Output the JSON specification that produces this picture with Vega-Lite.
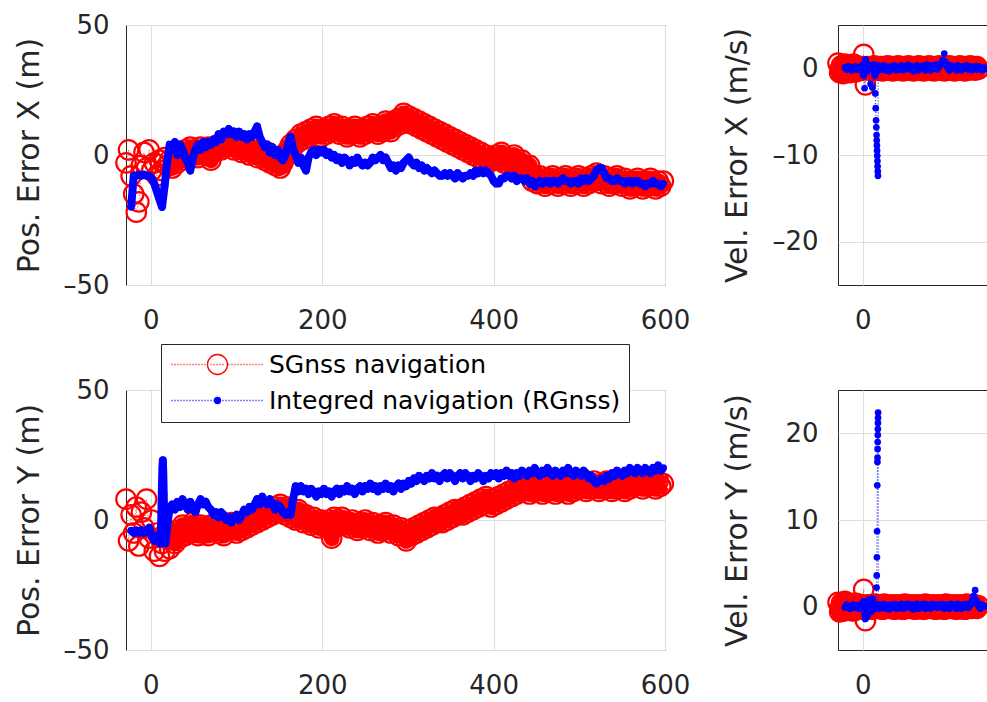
{
"$schema": "https://vega.github.io/schema/vega-lite/v6.json",
"background": "white",
"padding": {"left": 13, "top": 11, "right": -4, "bottom": 0},
"bounds": "flush",
"columns": 2,
"spacing": {"row": 105, "column": 173},
"config": {
  "font": "DejaVu Sans",
  "view": {"stroke": "#262626", "strokeWidth": 1},
  "axis": {"domain": false, "ticks": false, "grid": true, "gridColor": "#dedede", "gridWidth": 1, "labelFont": "DejaVu Sans", "labelFontSize": 26, "labelColor": "#262626", "titleFont": "DejaVu Sans", "titleFontSize": 30, "titleFontWeight": "normal", "titleColor": "#262626"},
  "axisX": {"labelPadding": 22, "labelFlush": false},
  "axisY": {"titlePadding": 12}
},
"datasets": {
"px": [
{"t":-29,"S":-3},{"t":-26,"S":2},{"t":-23,"S":-8,"I":-20},{"t":-20,"S":-15,"I":-8},{"t":-17,"S":-22,"I":-8},{"t":-14,"S":-18,"I":-7.5},{"t":-11,"S":-4,"I":-8},{"t":-8,"S":1,"I":-7.5},{"t":-5,"S":-5,"I":-8},{"t":-2,"S":2,"I":-8},
{"t":1,"S":-6,"I":-9},{"t":4,"S":-3,"I":-11},{"t":7,"S":-8,"I":-14},{"t":10,"S":-2,"I":-17},{"t":13,"S":-6,"I":-20},{"t":16,"S":-1,"I":-12},{"t":19,"S":-4,"I":-3},{"t":22,"S":-2,"I":4},{"t":25,"S":-5,"I":2},{"t":28,"S":0,"I":5},
{"t":31,"S":-3,"I":0},{"t":34,"S":1,"I":4},{"t":37,"S":-2,"I":2},{"t":40,"S":2,"I":-1},{"t":43,"S":-1,"I":-3},{"t":46,"S":3,"I":-6},{"t":49,"S":0,"I":-1},{"t":52,"S":2,"I":2},{"t":55,"S":-1,"I":4},{"t":58,"S":3,"I":2},
{"t":61,"S":1,"I":5},{"t":64,"S":0,"I":3},{"t":67,"S":3,"I":5},{"t":70,"S":-2,"I":4},{"t":73,"S":1,"I":6},{"t":76,"S":2,"I":5},{"t":79,"S":4,"I":8},{"t":82,"S":2,"I":6},{"t":85,"S":5,"I":9},{"t":88,"S":3,"I":8},
{"t":91,"S":6,"I":10},{"t":94,"S":4,"I":8},{"t":97,"S":2,"I":9},{"t":100,"S":5,"I":7},{"t":103,"S":3,"I":9},{"t":106,"S":1,"I":7},{"t":109,"S":4,"I":8},{"t":112,"S":2,"I":6},{"t":115,"S":0,"I":8},{"t":118,"S":3,"I":7},
{"t":121,"S":1,"I":9},{"t":124,"S":-1,"I":11},{"t":127,"S":2,"I":7},{"t":130,"S":0,"I":5},{"t":133,"S":-2,"I":3},{"t":136,"S":1,"I":4},{"t":139,"S":-3,"I":1},{"t":142,"S":-1,"I":3},{"t":145,"S":-4,"I":0},{"t":148,"S":-2,"I":2},
{"t":151,"S":-5,"I":-1},{"t":154,"S":-3,"I":-2},{"t":157,"S":-1,"I":0},{"t":160,"S":2,"I":4},{"t":163,"S":4,"I":7},{"t":166,"S":3,"I":2},{"t":169,"S":6,"I":0},{"t":172,"S":5,"I":-3},{"t":175,"S":8,"I":-1},{"t":178,"S":6,"I":-4},
{"t":181,"S":9,"I":-6},{"t":184,"S":7,"I":-1},{"t":187,"S":10,"I":1},{"t":190,"S":8,"I":2},{"t":193,"S":11,"I":0},{"t":196,"S":9,"I":2},{"t":199,"S":7,"I":1},{"t":202,"S":10,"I":2},{"t":205,"S":8,"I":0},{"t":208,"S":11,"I":1},
{"t":211,"S":9,"I":-1},{"t":214,"S":12,"I":0},{"t":217,"S":10,"I":-2},{"t":220,"S":8,"I":-1},{"t":223,"S":11,"I":-3},{"t":226,"S":9,"I":-1},{"t":229,"S":7,"I":-2},{"t":232,"S":10,"I":-4},{"t":235,"S":8,"I":-2},{"t":238,"S":11,"I":-3},
{"t":241,"S":9,"I":-1},{"t":244,"S":7,"I":-3},{"t":247,"S":10,"I":-4},{"t":250,"S":8,"I":-3},{"t":253,"S":11,"I":-4},{"t":256,"S":9,"I":-3},{"t":259,"S":12,"I":-1},{"t":262,"S":10,"I":-2},{"t":265,"S":8,"I":-1},{"t":268,"S":11,"I":0},
{"t":271,"S":9,"I":-2},{"t":274,"S":13,"I":-1},{"t":277,"S":11,"I":-3},{"t":280,"S":9,"I":-5},{"t":283,"S":13,"I":-4},{"t":286,"S":11,"I":-6},{"t":289,"S":14,"I":-4},{"t":292,"S":12,"I":-5},{"t":295,"S":16,"I":-3},{"t":298,"S":13,"I":-2},
{"t":301,"S":15,"I":-1},{"t":304,"S":12,"I":-3},{"t":307,"S":14,"I":-4},{"t":310,"S":11,"I":-3},{"t":313,"S":13,"I":-5},{"t":316,"S":10,"I":-4},{"t":319,"S":12,"I":-6},{"t":322,"S":9,"I":-5},{"t":325,"S":11,"I":-6},{"t":328,"S":8,"I":-7},
{"t":331,"S":10,"I":-6},{"t":334,"S":7,"I":-7},{"t":337,"S":9,"I":-8},{"t":340,"S":6,"I":-8},{"t":343,"S":8,"I":-7},{"t":346,"S":5,"I":-8},{"t":349,"S":7,"I":-7},{"t":352,"S":4,"I":-8},{"t":355,"S":6,"I":-9},{"t":358,"S":3,"I":-7},
{"t":361,"S":5,"I":-8},{"t":364,"S":2,"I":-9},{"t":367,"S":4,"I":-8},{"t":370,"S":1,"I":-8},{"t":373,"S":3,"I":-7},{"t":376,"S":0,"I":-8},{"t":379,"S":2,"I":-6},{"t":382,"S":-1,"I":-7},{"t":385,"S":1,"I":-6},{"t":388,"S":-2,"I":-7},
{"t":391,"S":0,"I":-6},{"t":394,"S":-3,"I":-7},{"t":397,"S":-1,"I":-8},{"t":400,"S":-2,"I":-10},{"t":403,"S":0,"I":-11},{"t":406,"S":-2,"I":-11},{"t":409,"S":1,"I":-9},{"t":412,"S":-3,"I":-9},{"t":415,"S":-1,"I":-8},{"t":418,"S":-4,"I":-8},
{"t":421,"S":-2,"I":-9},{"t":424,"S":0,"I":-8},{"t":427,"S":-3,"I":-10},{"t":430,"S":-5,"I":-9},{"t":433,"S":-2,"I":-9},{"t":436,"S":-4,"I":-10},{"t":439,"S":-6,"I":-9},{"t":442,"S":-4,"I":-11},{"t":445,"S":-10,"I":-10},{"t":448,"S":-8,"I":-12},
{"t":451,"S":-11,"I":-11},{"t":454,"S":-8,"I":-10},{"t":457,"S":-10,"I":-11},{"t":460,"S":-12,"I":-10},{"t":463,"S":-9,"I":-10},{"t":466,"S":-11,"I":-11},{"t":469,"S":-8,"I":-10},{"t":472,"S":-10,"I":-10},{"t":475,"S":-12,"I":-11},{"t":478,"S":-9,"I":-10},
{"t":481,"S":-11,"I":-9},{"t":484,"S":-8,"I":-10},{"t":487,"S":-10,"I":-10},{"t":490,"S":-12,"I":-11},{"t":493,"S":-9,"I":-10},{"t":496,"S":-11,"I":-10},{"t":499,"S":-8,"I":-11},{"t":502,"S":-10,"I":-9},{"t":505,"S":-12,"I":-10},{"t":508,"S":-9,"I":-9},
{"t":511,"S":-11,"I":-10},{"t":514,"S":-8,"I":-9},{"t":517,"S":-10,"I":-8},{"t":520,"S":-7,"I":-6},{"t":523,"S":-9,"I":-5},{"t":526,"S":-11,"I":-5},{"t":529,"S":-8,"I":-7},{"t":532,"S":-10,"I":-9},{"t":535,"S":-12,"I":-9},{"t":538,"S":-9,"I":-10},
{"t":541,"S":-11,"I":-10},{"t":544,"S":-8,"I":-9},{"t":547,"S":-10,"I":-10},{"t":550,"S":-12,"I":-10},{"t":553,"S":-9,"I":-11},{"t":556,"S":-11,"I":-10},{"t":559,"S":-13,"I":-10},{"t":562,"S":-10,"I":-11},{"t":565,"S":-12,"I":-10},{"t":568,"S":-9,"I":-10},
{"t":571,"S":-11,"I":-11},{"t":574,"S":-13,"I":-11},{"t":577,"S":-10,"I":-12},{"t":580,"S":-12,"I":-11},{"t":583,"S":-9,"I":-11},{"t":586,"S":-11,"I":-10},{"t":589,"S":-13,"I":-11},{"t":592,"S":-10,"I":-11},{"t":595,"S":-12,"I":-12},{"t":598,"S":-10,"I":-11}
],
"py": [
{"t":-29,"S":8},{"t":-26,"S":-8},{"t":-23,"S":2,"I":-4},{"t":-20,"S":-5,"I":-5},{"t":-17,"S":5,"I":-4},{"t":-14,"S":-10,"I":-5},{"t":-11,"S":3,"I":-4},{"t":-8,"S":-3,"I":-5},{"t":-5,"S":8,"I":-4},{"t":-2,"S":-7,"I":-3},
{"t":1,"S":0,"I":-6},{"t":4,"S":-12,"I":-8},{"t":7,"S":-5,"I":-6},{"t":10,"S":-14,"I":-8},{"t":11,"I":-9},{"t":12,"I":-2},{"t":12.5,"I":6},{"t":13,"S":-9,"I":14},{"t":13.5,"I":20},{"t":14,"I":23},{"t":14.5,"I":18},{"t":15,"I":10},{"t":15.5,"I":2},{"t":16,"S":-12,"I":-6},{"t":17,"I":-9},
{"t":19,"S":-7,"I":-3},{"t":22,"S":-11,"I":5},{"t":25,"S":-6,"I":6},{"t":28,"S":-9,"I":4},{"t":31,"S":-4,"I":7},{"t":34,"S":-7,"I":5},{"t":37,"S":-2,"I":8},{"t":40,"S":-6,"I":6},{"t":43,"S":-3,"I":4},{"t":46,"S":-5,"I":7},
{"t":49,"S":-1,"I":5},{"t":52,"S":-4,"I":3},{"t":55,"S":-6,"I":6},{"t":58,"S":-2,"I":8},{"t":61,"S":-5,"I":6},{"t":64,"S":-3,"I":7},{"t":67,"S":-6,"I":5},{"t":70,"S":-2,"I":4},{"t":73,"S":-4,"I":2},{"t":76,"S":-1,"I":3},
{"t":79,"S":-5,"I":1},{"t":82,"S":-3,"I":3},{"t":85,"S":-6,"I":2},{"t":88,"S":-2,"I":0},{"t":91,"S":-4,"I":1},{"t":94,"S":-1,"I":-1},{"t":97,"S":-3,"I":1},{"t":100,"S":-5,"I":2},{"t":103,"S":-2,"I":0},{"t":106,"S":-4,"I":2},
{"t":109,"S":-1,"I":4},{"t":112,"S":-3,"I":3},{"t":115,"S":0,"I":5},{"t":118,"S":-2,"I":4},{"t":121,"S":1,"I":6},{"t":124,"S":-1,"I":8},{"t":127,"S":2,"I":6},{"t":130,"S":0,"I":9},{"t":133,"S":3,"I":7},{"t":136,"S":1,"I":6},
{"t":139,"S":4,"I":8},{"t":142,"S":2,"I":6},{"t":145,"S":5,"I":4},{"t":148,"S":3,"I":6},{"t":151,"S":6,"I":5},{"t":154,"S":4,"I":3},{"t":157,"S":2,"I":2},{"t":160,"S":5,"I":3},{"t":163,"S":1,"I":2},{"t":166,"S":3,"I":8},
{"t":169,"S":0,"I":13},{"t":172,"S":4,"I":11},{"t":175,"S":1,"I":13},{"t":178,"S":-1,"I":11},{"t":181,"S":2,"I":12},{"t":184,"S":0,"I":10},{"t":187,"S":-2,"I":12},{"t":190,"S":1,"I":11},{"t":193,"S":-1,"I":9},{"t":196,"S":-3,"I":11},
{"t":199,"S":0,"I":10},{"t":202,"S":-2,"I":12},{"t":205,"S":-3,"I":10},{"t":208,"S":0,"I":11},{"t":211,"S":-7,"I":9},{"t":214,"S":1,"I":11},{"t":217,"S":-2,"I":12},{"t":220,"S":-1,"I":10},{"t":223,"S":1,"I":12},{"t":226,"S":-2,"I":11},
{"t":229,"S":-1,"I":13},{"t":232,"S":-3,"I":11},{"t":235,"S":0,"I":12},{"t":238,"S":-2,"I":10},{"t":241,"S":-4,"I":12},{"t":244,"S":-1,"I":13},{"t":247,"S":-3,"I":11},{"t":250,"S":0,"I":13},{"t":253,"S":-2,"I":12},{"t":256,"S":-4,"I":14},
{"t":259,"S":-1,"I":12},{"t":262,"S":-3,"I":13},{"t":265,"S":-5,"I":11},{"t":268,"S":-2,"I":13},{"t":271,"S":-4,"I":12},{"t":274,"S":-1,"I":14},{"t":277,"S":-3,"I":12},{"t":280,"S":-5,"I":13},{"t":283,"S":-2,"I":11},{"t":286,"S":-4,"I":13},
{"t":289,"S":-6,"I":14},{"t":292,"S":-3,"I":12},{"t":295,"S":-5,"I":14},{"t":298,"S":-8,"I":13},{"t":301,"S":-4,"I":15},{"t":304,"S":-6,"I":14},{"t":307,"S":-3,"I":16},{"t":310,"S":-5,"I":15},{"t":313,"S":-2,"I":17},{"t":316,"S":-4,"I":16},
{"t":319,"S":-1,"I":15},{"t":322,"S":-3,"I":17},{"t":325,"S":0,"I":16},{"t":328,"S":-2,"I":18},{"t":331,"S":1,"I":16},{"t":334,"S":-1,"I":17},{"t":337,"S":1,"I":15},{"t":340,"S":-1,"I":17},{"t":343,"S":2,"I":18},{"t":346,"S":0,"I":16},
{"t":349,"S":3,"I":18},{"t":352,"S":1,"I":17},{"t":355,"S":4,"I":15},{"t":358,"S":2,"I":17},{"t":361,"S":4,"I":18},{"t":364,"S":2,"I":16},{"t":367,"S":5,"I":18},{"t":370,"S":3,"I":17},{"t":373,"S":6,"I":15},{"t":376,"S":4,"I":17},
{"t":379,"S":7,"I":16},{"t":382,"S":5,"I":18},{"t":385,"S":8,"I":17},{"t":388,"S":6,"I":15},{"t":391,"S":9,"I":17},{"t":394,"S":7,"I":16},{"t":397,"S":5,"I":18},{"t":400,"S":8,"I":17},{"t":403,"S":6,"I":18},{"t":406,"S":9,"I":16},
{"t":409,"S":7,"I":18},{"t":412,"S":10,"I":17},{"t":415,"S":8,"I":19},{"t":418,"S":11,"I":17},{"t":421,"S":9,"I":18},{"t":424,"S":12,"I":16},{"t":427,"S":10,"I":18},{"t":430,"S":13,"I":17},{"t":433,"S":11,"I":19},{"t":436,"S":14,"I":18},
{"t":439,"S":12,"I":17},{"t":442,"S":10,"I":19},{"t":445,"S":13,"I":18},{"t":448,"S":11,"I":20},{"t":451,"S":14,"I":18},{"t":454,"S":12,"I":17},{"t":457,"S":10,"I":19},{"t":460,"S":13,"I":18},{"t":463,"S":11,"I":20},{"t":466,"S":14,"I":18},
{"t":469,"S":12,"I":17},{"t":472,"S":10,"I":19},{"t":475,"S":13,"I":18},{"t":478,"S":11,"I":17},{"t":481,"S":14,"I":19},{"t":484,"S":12,"I":18},{"t":487,"S":10,"I":20},{"t":490,"S":13,"I":18},{"t":493,"S":11,"I":17},{"t":496,"S":14,"I":19},
{"t":499,"S":12,"I":18},{"t":502,"S":15,"I":17},{"t":505,"S":13,"I":19},{"t":508,"S":11,"I":18},{"t":511,"S":14,"I":16},{"t":514,"S":12,"I":17},{"t":517,"S":15,"I":15},{"t":520,"S":13,"I":14},{"t":523,"S":11,"I":15},{"t":526,"S":14,"I":16},
{"t":529,"S":12,"I":15},{"t":532,"S":15,"I":17},{"t":535,"S":13,"I":16},{"t":538,"S":11,"I":18},{"t":541,"S":14,"I":17},{"t":544,"S":12,"I":19},{"t":547,"S":15,"I":18},{"t":550,"S":13,"I":17},{"t":553,"S":11,"I":19},{"t":556,"S":14,"I":18},
{"t":559,"S":12,"I":20},{"t":562,"S":15,"I":19},{"t":565,"S":13,"I":18},{"t":568,"S":16,"I":20},{"t":571,"S":14,"I":19},{"t":574,"S":12,"I":18},{"t":577,"S":15,"I":20},{"t":580,"S":13,"I":19},{"t":583,"S":16,"I":18},{"t":586,"S":14,"I":20},
{"t":589,"S":12,"I":19},{"t":592,"S":15,"I":21},{"t":595,"S":13,"I":19},{"t":598,"S":14,"I":20}
],
"vx": [
{"t":-29,"S":0.6},{"t":-27,"S":-0.5},{"t":-25,"S":0.3},{"t":-23,"S":-0.6},{"t":-21,"S":0.5,"I":0.1},{"t":-19,"S":-0.3,"I":-0.1},{"t":-17,"S":0.4,"I":0.2},{"t":-15,"S":-0.5,"I":0},{"t":-13,"S":0.2,"I":-0.2},{"t":-11,"S":0.5,"I":0.1},
{"t":-9,"S":-0.4,"I":0.2},{"t":-7,"S":0.3,"I":-0.1},{"t":-5,"S":-0.3,"I":0.1},{"t":-3,"S":0.2,"I":-0.2},{"t":-1,"S":-0.2,"I":0.3},{"t":1,"S":1.6,"I":-0.8},{"t":2,"I":-2.3},{"t":3,"S":-1.9,"I":1.0},{"t":5,"S":0.2,"I":-0.3},{"t":7,"S":-0.2,"I":0.3},
{"t":9,"S":0.1,"I":-1.8},{"t":11,"S":-0.3,"I":-2.2},{"t":13,"S":0.3,"I":0.4},{"t":14,"I":-0.8},{"t":14.5,"I":-2.9},{"t":15,"S":-0.1,"I":-4.6},{"t":15.4,"I":-6},{"t":15.7,"I":-6.8},{"t":16,"I":-7.7},{"t":16.2,"I":-8.3},
{"t":16.4,"I":-8.9},{"t":16.6,"I":-9.5},{"t":16.8,"I":-10.1},{"t":17,"S":0.2,"I":-10.7},{"t":17.2,"I":-11.3},{"t":17.4,"I":-11.9},{"t":17.6,"I":-12.4},{"t":18,"I":0.3},{"t":19,"S":-0.2,"I":-0.2},{"t":21,"S":0.2,"I":0.2},
{"t":23,"S":-0.3,"I":-0.1},{"t":25,"S":0.1,"I":0.3},{"t":27,"S":-0.2,"I":-0.2},{"t":29,"S":0.3,"I":0.1},{"t":31,"S":-0.1,"I":-0.3},{"t":33,"S":0.2,"I":0.2},{"t":35,"S":-0.3,"I":0},{"t":37,"S":0.1,"I":0.3},{"t":39,"S":-0.2,"I":-0.2},{"t":41,"S":0.3,"I":0.1},
{"t":43,"S":0,"I":-0.1},{"t":45,"S":0.2,"I":0.3},{"t":47,"S":-0.3,"I":-0.2},{"t":49,"S":0.1,"I":0.2},{"t":51,"S":-0.2,"I":0},{"t":53,"S":0.3,"I":0.4},{"t":55,"S":-0.1,"I":-0.1},{"t":57,"S":0.2,"I":0.2},{"t":59,"S":-0.3,"I":-0.3},{"t":61,"S":0.1,"I":0.1},
{"t":63,"S":-0.2,"I":0.3},{"t":65,"S":0.3,"I":-0.2},{"t":67,"S":0,"I":0.2},{"t":69,"S":0.2,"I":0},{"t":71,"S":-0.3,"I":0.3},{"t":73,"S":0.1,"I":-0.2},{"t":75,"S":-0.2,"I":0.4},{"t":77,"S":0.3,"I":0.1},{"t":79,"S":-0.1,"I":-0.2},{"t":81,"S":0.2,"I":0.3},
{"t":83,"S":-0.3,"I":0},{"t":85,"S":0.1,"I":0.4},{"t":87,"S":-0.2,"I":-0.1},{"t":89,"S":0.3,"I":0.2},{"t":91,"S":-0.1,"I":0.5},{"t":93,"S":0.2,"I":0.9},{"t":95,"S":-0.3,"I":1.7},{"t":97,"S":0.1,"I":0.6},{"t":99,"S":-0.2,"I":0.1},{"t":101,"S":0.3,"I":-0.2},
{"t":103,"S":-0.1,"I":0.3},{"t":105,"S":0.2,"I":0},{"t":107,"S":-0.3,"I":0.2},{"t":109,"S":0.1,"I":-0.2},{"t":111,"S":-0.2,"I":0.3},{"t":113,"S":0.3,"I":0.1},{"t":115,"S":0,"I":-0.2},{"t":117,"S":0.2,"I":0.2},{"t":119,"S":-0.3,"I":0},{"t":121,"S":0.1,"I":0.3},
{"t":123,"S":-0.2,"I":-0.1},{"t":125,"S":0.3,"I":0.2},{"t":127,"S":-0.1,"I":-0.2},{"t":129,"S":0.2,"I":0.1},{"t":131,"S":-0.2,"I":0.2},{"t":133,"S":0.2,"I":-0.1},{"t":135,"S":-0.1,"I":0.2},{"t":137,"I":0},{"t":139,"I":-0.2},{"t":141,"I":0.1},{"t":143,"I":-0.1}
],
"vy": [
{"t":-29,"S":0.5},{"t":-27,"S":-0.6},{"t":-25,"S":0.4},{"t":-23,"S":-0.5},{"t":-21,"S":0.6,"I":-0.1},{"t":-19,"S":-0.3,"I":0.2},{"t":-17,"S":0.4,"I":0},{"t":-15,"S":-0.4,"I":-0.2},{"t":-13,"S":0.3,"I":0.1},{"t":-11,"S":-0.5,"I":0.2},
{"t":-9,"S":0.4,"I":-0.1},{"t":-7,"S":-0.2,"I":0.1},{"t":-5,"S":0.3,"I":-0.2},{"t":-3,"S":-0.3,"I":0.2},{"t":-1,"S":0.2,"I":-0.1},{"t":1,"S":2.0,"I":0.6},{"t":3,"S":-1.6,"I":-1.4},{"t":5,"S":0.2,"I":-1.0},{"t":7,"S":-0.2,"I":0.8},{"t":9,"S":0.1,"I":-0.6},
{"t":11,"S":-0.3,"I":0.9},{"t":13,"S":0.3,"I":-0.3},{"t":15,"S":-0.1,"I":0.2},{"t":16,"I":2.2},{"t":16.2,"I":3.6},{"t":16.4,"I":5.7},{"t":16.6,"I":8.7},{"t":16.8,"I":14},{"t":17,"S":0.2,"I":16.7},{"t":17.1,"I":17.2},
{"t":17.2,"I":18.2},{"t":17.3,"I":19},{"t":17.4,"I":19.8},{"t":17.5,"I":20.5},{"t":17.6,"I":21.2},{"t":17.7,"I":21.8},{"t":17.8,"I":22.4},{"t":18,"I":0.2},{"t":19,"S":-0.2,"I":-0.2},{"t":21,"S":0.1,"I":0.2},
{"t":23,"S":-0.3,"I":-0.1},{"t":25,"S":0.3,"I":0.3},{"t":27,"S":-0.1,"I":-0.2},{"t":29,"S":0.2,"I":0.1},{"t":31,"S":-0.2,"I":-0.3},{"t":33,"S":0,"I":0.2},{"t":35,"S":0.2,"I":0},{"t":37,"S":-0.3,"I":0.3},{"t":39,"S":0.1,"I":-0.2},{"t":41,"S":0.2,"I":0.1},
{"t":43,"S":-0.2,"I":-0.1},{"t":45,"S":0.1,"I":0.3},{"t":47,"S":-0.3,"I":-0.2},{"t":49,"S":0.3,"I":0.2},{"t":51,"S":-0.1,"I":0},{"t":53,"S":0.2,"I":0.3},{"t":55,"S":-0.2,"I":-0.1},{"t":57,"S":0,"I":0.2},{"t":59,"S":0.2,"I":-0.3},{"t":61,"S":-0.3,"I":0.1},
{"t":63,"S":0.1,"I":0.3},{"t":65,"S":0.2,"I":-0.2},{"t":67,"S":-0.2,"I":0.2},{"t":69,"S":0.1,"I":0},{"t":71,"S":-0.3,"I":0.3},{"t":73,"S":0.3,"I":-0.2},{"t":75,"S":-0.1,"I":0.2},{"t":77,"S":0.2,"I":0.1},{"t":79,"S":-0.2,"I":-0.2},{"t":81,"S":0,"I":0.3},
{"t":83,"S":0.2,"I":0},{"t":85,"S":-0.3,"I":0.2},{"t":87,"S":0.1,"I":-0.1},{"t":89,"S":0.2,"I":0.2},{"t":91,"S":-0.2,"I":0},{"t":93,"S":0.1,"I":0.3},{"t":95,"S":-0.3,"I":-0.2},{"t":97,"S":0.3,"I":0.1},{"t":99,"S":-0.1,"I":0.2},{"t":101,"S":0.2,"I":-0.2},
{"t":103,"S":-0.2,"I":0.3},{"t":105,"S":0,"I":0},{"t":107,"S":0.2,"I":0.2},{"t":109,"S":-0.3,"I":-0.2},{"t":111,"S":0.1,"I":0.3},{"t":113,"S":0.2,"I":0.1},{"t":115,"S":-0.2,"I":-0.2},{"t":117,"S":0.1,"I":0.2},{"t":119,"S":-0.3,"I":0},{"t":121,"S":0.3,"I":0.3},
{"t":123,"S":-0.1,"I":-0.1},{"t":125,"S":0.2,"I":0.2},{"t":127,"S":-0.2,"I":0.4},{"t":129,"S":0,"I":1.2},{"t":131,"S":0.2,"I":1.9},{"t":133,"S":-0.2,"I":0.5},{"t":135,"S":0.1,"I":0.1},{"t":137,"I":-0.2},{"t":139,"I":0.2},{"t":141,"I":0},{"t":143,"I":0.1}
]
},
"concat": [
{
 "width": 539, "height": 260,
 "data": {"name": "px"},
 "transform": [{"fold": ["S", "I"], "as": ["k", "v"]}],
 "encoding": {
  "x": {"field": "t", "type": "quantitative", "scale": {"domain": [-29, 600], "nice": false, "zero": false}, "axis": {"values": [0, 200, 400, 600], "title": null}},
  "y": {"field": "v", "type": "quantitative", "scale": {"domain": [-50, 50], "nice": false}, "axis": {"values": [-50, 0, 50], "title": "Pos. Error X (m)", "labelPadding": 17, "minExtent": 70, "maxExtent": 70, "labelExpr": "replace(datum.label, '\u2212', '\u2013')"}},
  "color": {"field": "k", "type": "nominal", "scale": {"domain": ["S", "I"], "range": ["#ff0000", "#0000ff"]},
   "legend": {"orient": "none", "legendX": 35, "legendY": 319, "title": null, "direction": "vertical",
    "strokeColor": "#262626", "fillColor": "#ffffff", "padding": 8, "cornerRadius": 0,
    "labelFont": "DejaVu Sans", "labelFontSize": 25, "labelColor": "#000000", "labelOffset": 75, "labelLimit": 600,
    "symbolSize": 400, "symbolStrokeWidth": 1.3, "rowPadding": 10,
    "labelExpr": "datum.value === 'S' ? 'SGnss navigation' : 'Integred navigation (RGnss)'",
    "encode": {"symbols": {"update": {
      "shape": {"signal": "datum.value === 'S' ? 'M-1,0L-0.9,0M-0.7,0L-0.6,0M-0.4,0L-0.3,0M-0.1,0L0,0M0.2,0L0.3,0M0.5,0L0.6,0M0.8,0L0.9,0M1.1,0L1.2,0M1.4,0L1.5,0M1.7,0L1.8,0M2,0L2.1,0M2.3,0L2.4,0M2.9,0L3,0M3.2,0L3.3,0M3.5,0L3.6,0M3.8,0L3.9,0M4.1,0L4.2,0M4.7,0L4.8,0M5,0L5.1,0M5.3,0L5.4,0M5.6,0L5.7,0M5.9,0L6,0M6.2,0L6.3,0M6.5,0L6.6,0M6.8,0L6.9,0M7.1,0L7.2,0M7.4,0L7.5,0M7.7,0L7.8,0M8,0L8.1,0M4.6,0A1,1,0,1,1,2.6,0A1,1,0,1,1,4.6,0ZM4.6,0A1,1,0,1,0,2.6,0A1,1,0,1,0,4.6,0Z' : 'M-1,0L-0.9,0M-0.7,0L-0.6,0M-0.4,0L-0.3,0M-0.1,0L0,0M0.2,0L0.3,0M0.5,0L0.6,0M0.8,0L0.9,0M1.1,0L1.2,0M1.4,0L1.5,0M1.7,0L1.8,0M2,0L2.1,0M2.3,0L2.4,0M2.6,0L2.7,0M2.9,0L3,0M3.2,0L3.3,0M3.8,0L3.9,0M4.1,0L4.2,0M4.4,0L4.5,0M4.7,0L4.8,0M5,0L5.1,0M5.3,0L5.4,0M5.6,0L5.7,0M5.9,0L6,0M6.2,0L6.3,0M6.5,0L6.6,0M6.8,0L6.9,0M7.1,0L7.2,0M7.4,0L7.5,0M7.7,0L7.8,0M8,0L8.1,0M3.9,0A0.3,0.3,0,1,1,3.3,0A0.3,0.3,0,1,1,3.9,0Z'"},
      "fill": {"signal": "datum.value === 'S' ? 'transparent' : '#0000ff'"},
      "stroke": {"signal": "datum.value === 'S' ? '#ff0000' : '#0000ff'"},
      "strokeWidth": {"value": 1.3},
      "opacity": {"value": 1}
    }}}
   }}
 },
 "layer": [
  {"transform": [{"filter": "datum.k === 'S'"}], "mark": {"type": "line", "strokeDash": [1, 2], "strokeWidth": 0.8}},
  {"transform": [{"filter": "datum.k === 'S' && datum.t >= 22"}], "mark": {"type": "line", "strokeWidth": 16, "strokeJoin": "round"}},
  {"transform": [{"filter": "datum.k === 'S'"}], "mark": {"type": "point", "shape": "circle", "filled": false, "size": 380, "strokeWidth": 2.2, "opacity": 1}},
  {"transform": [{"filter": "datum.k === 'I'"}], "mark": {"type": "line", "strokeWidth": 8, "strokeJoin": "round"}},
  {"transform": [{"filter": "datum.k === 'I'"}], "mark": {"type": "circle", "size": 55, "opacity": 1}}
 ]
},
{
 "width": 150, "height": 260,
 "data": {"name": "vx"},
 "transform": [{"fold": ["S", "I"], "as": ["k", "v"]}],
 "encoding": {
  "x": {"field": "t", "type": "quantitative", "scale": {"domain": [-29, 146], "nice": false, "zero": false}, "axis": {"values": [0], "title": null}},
  "y": {"field": "v", "type": "quantitative", "scale": {"domain": [-25, 5], "nice": false}, "axis": {"values": [-20, -10, 0], "title": "Vel. Error X (m/s)", "labelPadding": 20, "minExtent": 74, "maxExtent": 74, "labelExpr": "replace(datum.label, '\u2212', '\u2013')"}},
  "color": {"field": "k", "type": "nominal", "scale": {"domain": ["S", "I"], "range": ["#ff0000", "#0000ff"]}, "legend": null}
 },
 "layer": [
  {"transform": [{"filter": "datum.k === 'S'"}], "mark": {"type": "line", "strokeDash": [1, 2], "strokeWidth": 0.8}},
  {"transform": [{"filter": "datum.k === 'S' && abs(datum.v) < 1"}], "mark": {"type": "line", "strokeWidth": 18, "strokeJoin": "round"}},
  {"transform": [{"filter": "datum.k === 'S'"}], "mark": {"type": "point", "shape": "circle", "filled": false, "size": 380, "strokeWidth": 2.2, "opacity": 1}},
  {"transform": [{"filter": "datum.k === 'I' && abs(datum.v) < 1.5"}], "mark": {"type": "line", "strokeWidth": 7, "strokeJoin": "round"}},
  {"transform": [{"filter": "datum.k === 'I'"}], "mark": {"type": "line", "strokeDash": [1, 2], "strokeWidth": 1}},
  {"transform": [{"filter": "datum.k === 'I'"}], "mark": {"type": "circle", "size": 45, "opacity": 1}}
 ]
},
{
 "width": 539, "height": 260,
 "data": {"name": "py"},
 "transform": [{"fold": ["S", "I"], "as": ["k", "v"]}],
 "encoding": {
  "x": {"field": "t", "type": "quantitative", "scale": {"domain": [-29, 600], "nice": false, "zero": false}, "axis": {"values": [0, 200, 400, 600], "title": null}},
  "y": {"field": "v", "type": "quantitative", "scale": {"domain": [-50, 50], "nice": false}, "axis": {"values": [-50, 0, 50], "title": "Pos. Error Y (m)", "labelPadding": 17, "minExtent": 70, "maxExtent": 70, "labelExpr": "replace(datum.label, '\u2212', '\u2013')"}},
  "color": {"field": "k", "type": "nominal", "scale": {"domain": ["S", "I"], "range": ["#ff0000", "#0000ff"]}, "legend": null}
 },
 "layer": [
  {"transform": [{"filter": "datum.k === 'S'"}], "mark": {"type": "line", "strokeDash": [1, 2], "strokeWidth": 0.8}},
  {"transform": [{"filter": "datum.k === 'S' && datum.t >= 22"}], "mark": {"type": "line", "strokeWidth": 16, "strokeJoin": "round"}},
  {"transform": [{"filter": "datum.k === 'S'"}], "mark": {"type": "point", "shape": "circle", "filled": false, "size": 380, "strokeWidth": 2.2, "opacity": 1}},
  {"transform": [{"filter": "datum.k === 'I'"}], "mark": {"type": "line", "strokeWidth": 8, "strokeJoin": "round"}},
  {"transform": [{"filter": "datum.k === 'I'"}], "mark": {"type": "circle", "size": 55, "opacity": 1}}
 ]
},
{
 "width": 150, "height": 260,
 "data": {"name": "vy"},
 "transform": [{"fold": ["S", "I"], "as": ["k", "v"]}],
 "encoding": {
  "x": {"field": "t", "type": "quantitative", "scale": {"domain": [-29, 146], "nice": false, "zero": false}, "axis": {"values": [0], "title": null}},
  "y": {"field": "v", "type": "quantitative", "scale": {"domain": [-5, 25], "nice": false}, "axis": {"values": [0, 10, 20], "title": "Vel. Error Y (m/s)", "labelPadding": 20, "minExtent": 74, "maxExtent": 74, "labelExpr": "replace(datum.label, '\u2212', '\u2013')"}},
  "color": {"field": "k", "type": "nominal", "scale": {"domain": ["S", "I"], "range": ["#ff0000", "#0000ff"]}, "legend": null}
 },
 "layer": [
  {"transform": [{"filter": "datum.k === 'S'"}], "mark": {"type": "line", "strokeDash": [1, 2], "strokeWidth": 0.8}},
  {"transform": [{"filter": "datum.k === 'S' && abs(datum.v) < 1"}], "mark": {"type": "line", "strokeWidth": 18, "strokeJoin": "round"}},
  {"transform": [{"filter": "datum.k === 'S'"}], "mark": {"type": "point", "shape": "circle", "filled": false, "size": 380, "strokeWidth": 2.2, "opacity": 1}},
  {"transform": [{"filter": "datum.k === 'I' && abs(datum.v) < 1.5"}], "mark": {"type": "line", "strokeWidth": 7, "strokeJoin": "round"}},
  {"transform": [{"filter": "datum.k === 'I'"}], "mark": {"type": "line", "strokeDash": [1, 2], "strokeWidth": 1}},
  {"transform": [{"filter": "datum.k === 'I'"}], "mark": {"type": "circle", "size": 45, "opacity": 1}}
 ]
}
]
}
